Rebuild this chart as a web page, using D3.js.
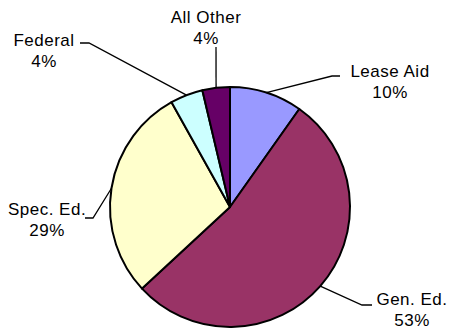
<!DOCTYPE html>
<html>
<head>
<meta charset="utf-8">
<script src="https://cdn.jsdelivr.net/npm/d3@7"></script>
<style>
  html, body { margin: 0; padding: 0; background: #fff; }
  svg { display: block; }
  text { font-family: Arial, "Liberation Sans", sans-serif; font-size: 17px; fill: #000; letter-spacing: 0.5px; }
</style>
</head>
<body>
<svg id="chart" width="449" height="333"></svg>
<script>
// Data
const categories = ["Lease Aid", "Gen. Ed.", "Spec. Ed.", "Federal", "All Other"];
const values = [9.8, 53.3, 28.8, 4.4, 3.7];
const colors = ["#9999FF", "#993366", "#FFFFCC", "#CCFFFF", "#660066"];

// Layout (label placement, not data)
const cx = 230, cy = 207, R = 120;
const labelLayout = [
  { x: 390, y: 77, elbow: [332, 76], end: [340, 76] },
  { x: 412, y: 305, elbow: [362, 305], end: [372, 305] },
  { x: 47, y: 215, elbow: [93, 218], end: [85, 218] },
  { x: 44, y: 46, elbow: [89, 43], end: [80, 43] },
  { x: 206, y: 23, elbow: [216, 47], end: [216, 47] }
];

const svg = d3.select("#chart");
const g = svg.append("g").attr("transform", `translate(${cx},${cy})`);

const pie = d3.pie().sort(null).value(d => d)(values);
const arc = d3.arc().innerRadius(0).outerRadius(R);

g.selectAll("path.slice")
  .data(pie)
  .join("path")
  .attr("class", "slice")
  .attr("d", arc)
  .attr("fill", (d, i) => colors[i])
  .attr("stroke", "#000")
  .attr("stroke-width", 2)
  .attr("stroke-linejoin", "round");

// Leader lines
const edge = d3.arc().innerRadius(R).outerRadius(R);
pie.forEach((d, i) => {
  const [px, py] = edge.centroid(d);
  const L = labelLayout[i];
  const pts = [[px + cx, py + cy], L.elbow, L.end];
  svg.append("path")
    .attr("d", d3.line()(pts))
    .attr("fill", "none")
    .attr("stroke", "#000")
    .attr("stroke-width", 1.3);
});

// Labels
pie.forEach((d, i) => {
  const L = labelLayout[i];
  const t = svg.append("text")
    .attr("text-anchor", "middle")
    .attr("x", L.x)
    .attr("y", L.y);
  t.append("tspan").attr("x", L.x).attr("dy", 0).text(categories[i]);
  t.append("tspan").attr("x", L.x).attr("dy", 21).text(Math.round(values[i]) + "%");
});
</script>
</body>
</html>
